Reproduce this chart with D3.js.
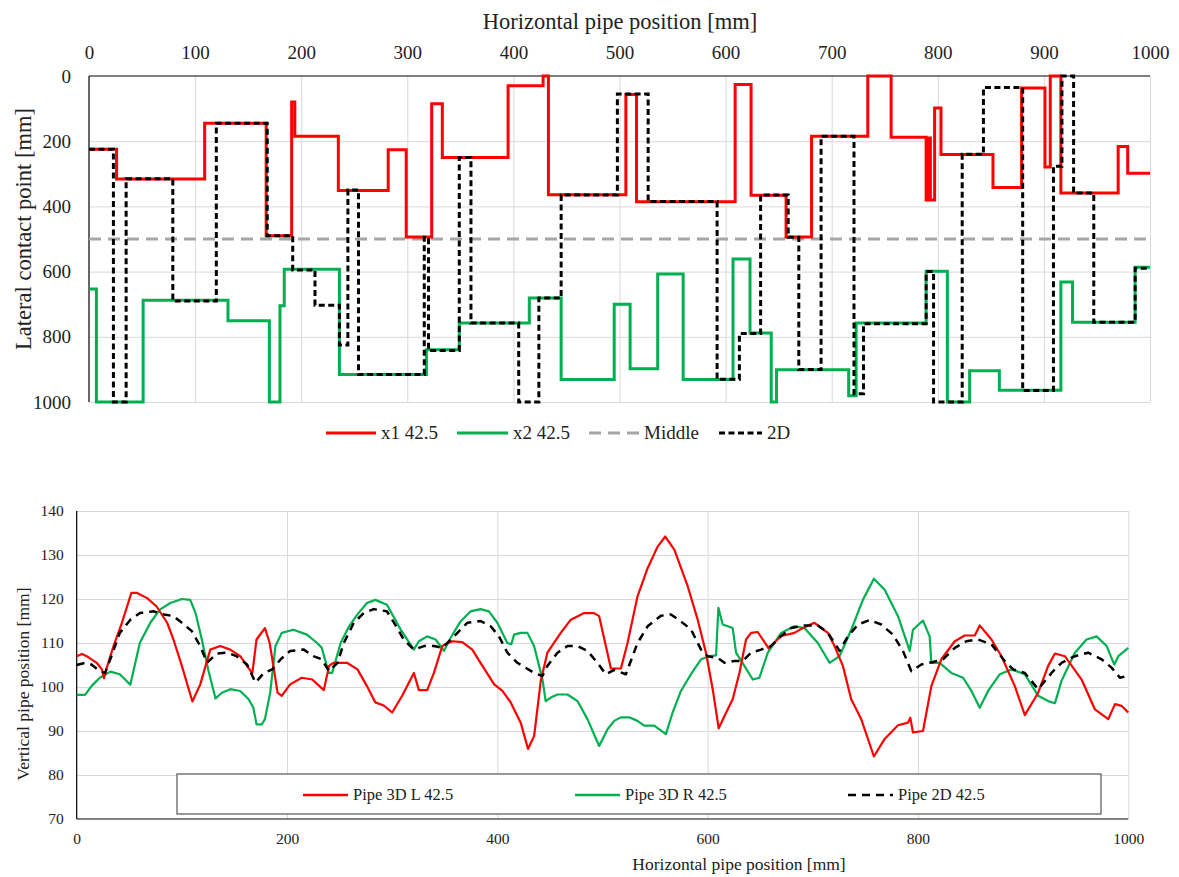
<!DOCTYPE html>
<html lang="en">
<head>
<meta charset="UTF-8">
<script src="https://cdn.jsdelivr.net/npm/d3@7"></script>
<title>Pipe position</title>
<style>
    body { margin: 0; background: #fff; }
    svg text { font-family: "Liberation Serif", "Times New Roman", "DejaVu Serif", serif !important; }
    .grid line { stroke: #d9d9d9; stroke-width: 1; }
    .grid path { display: none; }
</style>
</head>
<body>
<div id="container"></div>
<script>
    /*----------------------- data -----------------------*/
    // top chart: step series, [start position, lateral contact point]
    const x1Steps = [[0,225],[26,316],[109,145],[167,490],[191,80],[194,185],[235,351],[282,226],[299,494],[323,85],[333,250],[395,30],[428,0],[433,364],[506,57],[516,386],[609,26],[624,366],[657,494],[681,185],[734,0],[756,188],[789,380],[791,190],[793,380],[797,98],[803,241],[852,342],[879,37],[901,279],[906,0],[916,359],[970,216],[979,298],[1000,298]]
    const x2Steps = [[0,653],[7,1000],[51,688],[131,751],[170,1000],[180,705],[184,593],[236,916],[318,840],[349,758],[415,681],[445,931],[495,700],[510,898],[536,607],[560,931],[607,561],[623,788],[643,1000],[648,901],[716,981],[723,758],[789,599],[809,1000],[830,904],[858,964],[916,632],[927,755],[986,587],[1000,587]]
    const twoDSteps = [[0,225],[23,1000],[35,315],[79,690],[120,145],[168,490],[192,595],[213,703],[236,825],[244,350],[254,916],[316,495],[320,842],[349,250],[360,758],[405,1000],[424,681],[445,365],[498,55],[527,385],[592,930],[613,790],[633,365],[659,495],[669,900],[690,185],[721,975],[730,760],[789,600],[796,1000],[823,240],[843,35],[880,965],[909,277],[917,0],[928,359],[947,755],[986,590],[1000,590]]
    const middleLine = [[0,500],[1000,500]]
    const topXTicks = [0,100,200,300,400,500,600,700,800,900,1000]
    const topYTicks = [0,200,400,600,800,1000]
    const topLegend = ["x1 42.5", "x2 42.5", "Middle", "2D"]

    // bottom chart: vertical pipe position
    const pipeL = [[0,107],[5,107.5],[9.5,107],[19,105.5],[24,104],[26,102],[28.5,104.3],[35,109.3],[43,114.6],[52,121.4],[57,121.4],[67,120.2],[76,118.3],[86,114.6],[92,110.8],[100,104.8],[110,96.7],[117.5,100.6],[127,108.5],[136.5,109.3],[146,108.5],[155.5,107],[167,103.1],[171,110.8],[179,113.4],[183.5,110],[187,104.8],[191,98.7],[195,98],[203,100.6],[214,102.1],[224,101.7],[235,99.3],[240,104.8],[244,105.5],[257,105.5],[267,104],[276,100.2],[284,96.5],[292,95.8],[300,94.2],[309.5,98],[320.6,103.2],[325.4,99.3],[333.3,99.3],[339.7,103.2],[347.6,109.3],[357,110.4],[366.7,110.2],[376.2,108.5],[384,105.5],[397,100.6],[404.8,99.1],[412.7,96.5],[422.2,91.9],[429.2,85.9],[435,88.9],[441.3,101.4],[447.6,107.8],[460.3,112.3],[469.9,115.3],[482.5,116.8],[492,116.8],[496.8,116.1],[508,104.2],[517.5,104.2],[523.8,110],[533.3,120.6],[542.9,127],[552.4,131.9],[559.7,134.2],[568.3,131.2],[581,122.9],[590.5,115.3],[598.4,107.8],[604.8,99.5],[610.5,90.6],[616,93.4],[623.8,97.2],[630.2,103.2],[636.5,110.8],[641.3,112.3],[647.6,112.5],[658,108.8],[669.9,111.6],[682.5,112.3],[690.5,113.4],[701.6,114.6],[714.3,112.3],[720.6,109.3],[728.6,104.8],[736.5,97.2],[746,92.7],[758.1,84.2],[768.3,88.2],[781,91.3],[790.5,91.9],[792.7,93],[795.2,89.7],[804.8,90],[812.7,100.2],[822.2,106.3],[835,110.4],[844.4,111.7],[854,111.7],[858.7,114],[869.9,110.8],[879.4,107],[892.1,100.2],[901.6,93.6],[914.3,98.7],[923.8,104.8],[930.2,107.6],[939.7,107],[955.6,101.7],[968.3,94.9],[981,92.7],[987.3,96.1],[993.7,95.7],[1000,94.2]]
    const pipeR = [[0,98.2],[8,98.2],[14,100.2],[22,102.1],[32,103.5],[41,102.9],[51,100.5],[60,110],[70,114.6],[79,117.6],[89,119.1],[100,120],[108,119.8],[113,116.8],[119,110.8],[125,104],[132,97.4],[138,98.7],[146,99.5],[155.5,99.1],[163.5,97.2],[168,95.3],[171,91.5],[176,91.5],[179,92.7],[184,98.7],[189,109.3],[195,112.3],[206,113],[219,111.9],[228.6,110],[233,108.9],[239.7,103.2],[242.9,103.2],[251,110],[259,113.8],[267,116.5],[276,119.1],[284,119.8],[295,118.7],[308,113.1],[320.6,108.5],[325.4,110.4],[333.3,111.5],[341.3,110.8],[349.2,108.2],[355.6,111.2],[365,114.9],[374.6,117.2],[384,117.7],[392,117.2],[400,114.6],[409.5,110],[413.3,109.7],[415.9,111.9],[422.2,112.3],[428.6,112.3],[434.9,109.3],[439.7,104.8],[442.9,101.7],[446,96.8],[450.8,97.6],[457.2,98.3],[466.7,98.3],[476.2,96.8],[485.7,92.7],[496.8,86.6],[504.8,90.4],[511.1,92.3],[517.5,93.1],[525.4,93.1],[533.3,92.3],[539.7,91.2],[549.2,91.2],[560.3,89.3],[566.7,94.2],[574.6,99.1],[584.1,102.9],[593.7,106.3],[601.6,107],[608,107.2],[610.2,118],[614.3,114.2],[623.8,113.4],[627,107.8],[634.9,104.8],[642.9,101.7],[649.2,102.1],[657.2,107.8],[669.9,112.3],[682.5,113.8],[692,113.4],[704.8,110],[715.9,105.5],[725.4,107],[736.5,113],[747.6,119.8],[758.1,124.6],[768.3,122.1],[781,116.1],[792.1,108.2],[795.2,113],[804.8,115.1],[811.1,111.5],[812.7,105.5],[820.6,105.5],[831.7,103.2],[842.9,102.1],[850.8,99.1],[858.7,95.3],[866.7,99.1],[877.8,102.9],[888.9,104],[901.6,102.9],[914.3,98],[923.8,96.8],[930.2,96.3],[936.5,101.4],[949.2,107.8],[960.3,110.8],[969.8,111.5],[979.4,109.3],[986.7,105.1],[990.5,107],[1000,108.9]]
    const pipe2D = [[0,105],[8,105.5],[14,105.1],[22,103.6],[27,103.2],[33,107],[41,112.3],[51,115.3],[60,116.8],[73,117.2],[83,116.5],[92,116.1],[100,114.6],[109.5,112.7],[117.5,109.3],[124,105.5],[133,107.6],[143,107.8],[152,107],[162,105.1],[170,101],[178,103.2],[186,104],[194,106.3],[203,108.2],[216,108.5],[225,107],[233,106.3],[240,103.6],[248,105.5],[254,110],[263.5,114.6],[273,116.8],[282.5,117.7],[295,117.2],[302,114.5],[311,110.8],[320.6,108.5],[330.2,109.3],[339.7,109.3],[347.6,108.9],[358.7,111.5],[371.4,114.6],[384,115],[393.7,113.8],[401.6,111.5],[409.5,107.8],[419,105.5],[435,103.2],[442.9,102.5],[447.6,104.8],[457.2,107.8],[466.7,109.3],[476.2,109.3],[485.7,108.2],[495.2,105.5],[503.2,102.9],[511.1,103.9],[522.2,102.9],[533.3,110],[542.9,113.8],[555.6,116.2],[565.1,116.5],[574.6,114.9],[584.1,113.1],[593.7,108.5],[600,107],[609.5,106.6],[616,105.5],[625.4,105.9],[633.3,105.9],[641.3,107.8],[650.8,108.5],[660.3,109.3],[669.9,111.6],[679.4,113.4],[692,114],[704.8,114],[714.3,112.3],[720.6,110],[725.4,108.2],[733.3,111.5],[742.9,114.2],[754,115.2],[765.1,114.2],[776.2,111.9],[785.7,108.2],[793.7,103.6],[803.2,105.1],[814.3,105.7],[823.8,106.3],[835,108.9],[846,110.4],[857.1,110.8],[869.9,109.7],[882.5,105.9],[890.5,104],[901.6,103.2],[914.3,99.5],[927,103.2],[936.5,105.5],[949.2,107],[961.9,107.8],[974.6,106.3],[984.1,104.4],[992.1,102.1],[1000,102.6]]
    const botXTicks = [0,200,400,600,800,1000]
    const botYTicks = [70,80,90,100,110,120,130,140]
    const botLegend = ["Pipe 3D L 42.5", "Pipe 3D R 42.5", "Pipe 2D 42.5"]

    /*----------------------- page -----------------------*/
    const W = 1179, H = 877
    const RED = "#ff0000", GREEN = "#00b050", GREY = "#a6a6a6", BLACK = "#000"
    const SERIF = '"Liberation Serif", "Times New Roman", "DejaVu Serif", serif'

    const svg = d3.select("#container").append("svg")
        .attr("width", W).attr("height", H)

    /*-------------------- top chart ---------------------*/
    const tx = d3.scaleLinear().domain([0, 1000]).range([89, 1150])
    const ty = d3.scaleLinear().domain([0, 1000]).range([76, 402])

    const topG = svg.append("g")

    topG.append("g").attr("class", "grid")
        .attr("transform", `translate(0,${ty(0)})`)
        .call(d3.axisBottom(tx).tickValues(topXTicks.slice(1)).tickSize(ty(1000) - ty(0)).tickFormat(""))
    topG.append("g").attr("class", "grid")
        .attr("transform", `translate(${tx(0)},0)`)
        .call(d3.axisRight(ty).tickValues(topYTicks.slice(1)).tickSize(tx(1000) - tx(0)).tickFormat(""))

    // axes lines (top + left)
    topG.append("line").attr("x1", tx(0)).attr("x2", tx(1000)).attr("y1", ty(0)).attr("y2", ty(0))
        .attr("stroke", BLACK).attr("stroke-width", 1.2)
    topG.append("line").attr("x1", tx(0)).attr("x2", tx(0)).attr("y1", ty(0)).attr("y2", ty(1000))
        .attr("stroke", BLACK).attr("stroke-width", 1.2)

    const topX = topG.append("g").attr("transform", `translate(0,${ty(0)})`)
        .call(d3.axisTop(tx).tickValues(topXTicks).tickSize(0).tickPadding(17).tickFormat(d3.format("d")))
    topX.select(".domain").remove()
    topX.selectAll("text").attr("font-size", 19).attr("fill", "#222")

    const topY = topG.append("g").attr("transform", `translate(${tx(0)},0)`)
        .call(d3.axisLeft(ty).tickValues(topYTicks).tickSize(0).tickPadding(18).tickFormat(d3.format("d")))
    topY.select(".domain").remove()
    topY.selectAll("text").attr("font-size", 19).attr("fill", "#222")

    topG.append("text").attr("x", 620).attr("y", 29).attr("text-anchor", "middle")
        .attr("font-size", 22.5).attr("fill", "#222").text("Horizontal pipe position [mm]")
    topG.append("text").attr("transform", `translate(31,229) rotate(-90)`)
        .attr("text-anchor", "middle").attr("font-size", 22.5).attr("fill", "#222")
        .text("Lateral contact point [mm]")

    const stepLine = d3.line().x(d => tx(d[0])).y(d => ty(d[1])).curve(d3.curveStepAfter)
    const topSeries = [
        { data: middleLine, color: GREY, width: 3, dash: "12,7" },
        { data: x2Steps, color: GREEN, width: 3, dash: null },
        { data: x1Steps, color: RED, width: 3, dash: null },
        { data: twoDSteps, color: BLACK, width: 3, dash: "6,3.5" }
    ]
    topG.selectAll(".series").data(topSeries).enter().append("path")
        .attr("d", d => stepLine(d.data))
        .attr("fill", "none")
        .attr("stroke", d => d.color)
        .attr("stroke-width", d => d.width)
        .attr("stroke-dasharray", d => d.dash)

    // top legend
    const topLegendItems = [
        { x: 326, len: 50, color: RED, dash: null },
        { x: 457, len: 51, color: GREEN, dash: null },
        { x: 589, len: 50, color: GREY, dash: "12,7" },
        { x: 719, len: 43, color: BLACK, dash: "6,3.5" }
    ]
    const tl = topG.selectAll(".tleg").data(topLegendItems).enter().append("g")
    tl.append("line").attr("x1", d => d.x).attr("x2", d => d.x + d.len)
        .attr("y1", 433).attr("y2", 433)
        .attr("stroke", d => d.color).attr("stroke-width", 3).attr("stroke-dasharray", d => d.dash)
    tl.append("text").attr("x", d => d.x + d.len + 5).attr("y", 439)
        .attr("font-size", 19).attr("fill", "#222").text((d, i) => topLegend[i])

    /*------------------- bottom chart -------------------*/
    const bx = d3.scaleLinear().domain([0, 1000]).range([76.7, 1128.3])
    const by = d3.scaleLinear().domain([70, 140]).range([819, 511])

    const botG = svg.append("g")

    botG.append("g").attr("class", "grid")
        .attr("transform", `translate(0,${by(140)})`)
        .call(d3.axisBottom(bx).tickValues(botXTicks.slice(1)).tickSize(by(70) - by(140)).tickFormat(""))
    botG.append("g").attr("class", "grid")
        .attr("transform", `translate(${bx(0)},0)`)
        .call(d3.axisRight(by).tickValues(botYTicks.slice(1)).tickSize(bx(1000) - bx(0)).tickFormat(""))

    botG.append("line").attr("x1", bx(0)).attr("x2", bx(1000)).attr("y1", by(70)).attr("y2", by(70))
        .attr("stroke", "#595959").attr("stroke-width", 1.5)
    botG.append("line").attr("x1", bx(0)).attr("x2", bx(0)).attr("y1", by(140)).attr("y2", by(70))
        .attr("stroke", BLACK).attr("stroke-width", 1.2)

    const botX = botG.append("g").attr("transform", `translate(0,${by(70)})`)
        .call(d3.axisBottom(bx).tickValues(botXTicks).tickSize(0).tickPadding(14).tickFormat(d3.format("d")))
    botX.select(".domain").remove()
    botX.selectAll("text").attr("font-size", 15.5).attr("fill", "#222")

    const botY = botG.append("g").attr("transform", `translate(${bx(0)},0)`)
        .call(d3.axisLeft(by).tickValues(botYTicks).tickSize(0).tickPadding(13).tickFormat(d3.format("d")))
    botY.select(".domain").remove()
    botY.selectAll("text").attr("font-size", 15.5).attr("fill", "#222")

    botG.append("text").attr("x", 739).attr("y", 870).attr("text-anchor", "middle")
        .attr("font-size", 17.5).attr("fill", "#222").text("Horizontal pipe position [mm]")
    botG.append("text").attr("transform", `translate(29,684) rotate(-90)`)
        .attr("text-anchor", "middle").attr("font-size", 17.5).attr("fill", "#222")
        .text("Vertical pipe position [mm]")

    const curveLine = d3.line().x(d => bx(d[0])).y(d => by(d[1]))
    const botSeries = [
        { data: pipeR, color: GREEN, width: 2.2, dash: null },
        { data: pipeL, color: RED, width: 2.2, dash: null },
        { data: pipe2D, color: BLACK, width: 2.5, dash: "8,6" }
    ]
    botG.selectAll(".series").data(botSeries).enter().append("path")
        .attr("d", d => curveLine(d.data))
        .attr("fill", "none")
        .attr("stroke", d => d.color)
        .attr("stroke-width", d => d.width)
        .attr("stroke-dasharray", d => d.dash)
        .attr("stroke-linejoin", "round")

    // bottom legend box
    botG.append("rect").attr("x", 177).attr("y", 774).attr("width", 924).attr("height", 40)
        .attr("fill", "#fff").attr("stroke", "#555").attr("stroke-width", 1.2)
    const botLegendItems = [
        { x: 303, len: 45, color: RED, dash: null },
        { x: 575, len: 45, color: GREEN, dash: null },
        { x: 848, len: 45, color: BLACK, dash: "8,6" }
    ]
    const bl = botG.selectAll(".bleg").data(botLegendItems).enter().append("g")
    bl.append("line").attr("x1", d => d.x).attr("x2", d => d.x + d.len)
        .attr("y1", 795).attr("y2", 795)
        .attr("stroke", d => d.color).attr("stroke-width", 2.5).attr("stroke-dasharray", d => d.dash)
    bl.append("text").attr("x", d => d.x + d.len + 5).attr("y", 800)
        .attr("font-size", 16.5).attr("fill", "#222").text((d, i) => botLegend[i])

    svg.selectAll("text").style("font-family", SERIF)
</script>
</body>
</html>
